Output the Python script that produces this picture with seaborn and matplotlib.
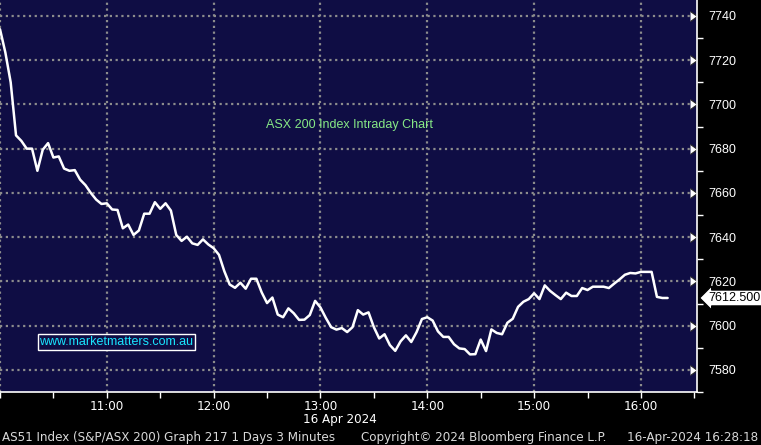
import numpy as np
import pandas as pd
import matplotlib
matplotlib.use("Agg")
import matplotlib.pyplot as plt
import matplotlib.transforms as mtransforms
import seaborn as sns

# ASX 200 intraday, 3 minute bars starting 10:00
start_hour = 10.0
step_min = 3
prices = [7734, 7723.5, 7710, 7686, 7683.5, 7680, 7680, 7670, 7679.5, 7682.5,
          7676, 7676.5, 7671, 7670, 7670.3, 7666, 7663.5, 7660, 7657, 7655,
          7655.3, 7652.5, 7652.3, 7644, 7645.7, 7641, 7643, 7650.6, 7650.6, 7655.8,
          7652.8, 7655.3, 7652, 7641, 7638.3, 7640.2, 7637.2, 7636.5, 7639, 7636.7,
          7635, 7632, 7624.6, 7618.6, 7617.1, 7619.4, 7616.7, 7621.2, 7621.2, 7615,
          7610.2, 7612.7, 7605, 7603.8, 7607.8, 7605.6, 7602.6, 7602.7, 7604.8, 7611.2,
          7608.2, 7603.5, 7599.3, 7598.2, 7598.9, 7597.1, 7599.3, 7607, 7605, 7606,
          7599.3, 7594.2, 7596.1, 7591.2, 7588.6, 7592.9, 7595.6, 7592.6, 7597.1, 7603,
          7603.8, 7602.3, 7597.4, 7594.9, 7594.9, 7591.6, 7589.7, 7589.4, 7587, 7587.1,
          7593.7, 7588.5, 7598.3, 7596.7, 7596.1, 7601.3, 7603.1, 7608.5, 7610.8, 7612,
          7614.6, 7612, 7618.2, 7615.7, 7613.8, 7612, 7614.9, 7613.4, 7613.4, 7617,
          7616.1, 7617.6, 7617.6, 7617.6, 7617, 7619, 7620.9, 7623, 7623.8, 7623.6,
          7624.3, 7624.3, 7624.3, 7613, 7612.5, 7612.5]
hour_ticks = [10, 11, 12, 13, 14, 15, 16]
hour_labels = ["", "11:00", "12:00", "13:00", "14:00", "15:00", "16:00"]
price_ticks = [7580, 7600, 7620, 7640, 7660, 7680, 7700, 7720, 7740]
last_price = 7612.5
date_label = "16 Apr 2024"
chart_title = "ASX 200 Index Intraday Chart"
watermark = "www.marketmatters.com.au"
footer_left = "AS51 Index (S&P/ASX 200) Graph 217 1 Days 3 Minutes"
footer_mid = "Copyright\u00a9 2024 Bloomberg Finance L.P."
footer_right = "16-Apr-2024 16:28:18"

df = pd.DataFrame({"hour": start_hour + np.arange(len(prices)) * step_min / 60,
                   "price": prices})

sns.set_style("dark")
plt.rcParams["font.family"] = ["Liberation Sans", "DejaVu Sans"]
cond = dict(family="DejaVu Sans", stretch="condensed")

navy = "#0f0d44"
grid_col = "#8c8c8c"

fig = plt.figure(figsize=(7.61, 4.45), dpi=100, facecolor="black")
ax = fig.add_axes([0, 1 - 392 / 445, 697 / 761, 392 / 445])
ax.set_facecolor(navy)

sns.lineplot(data=df, x="hour", y="price", color="white", lw=1.8, ax=ax)

ax.set_xlim(10.0, 16.525)
ax.set_ylim(7572.6, 7747.2)

ax.set_xticks(hour_ticks)
ax.set_xticklabels(hour_labels, color="white", fontsize=9.5, **cond)
ax.set_xticks([10.5, 11.5, 12.5, 13.5, 14.5, 15.5, 16.5], minor=True)
ax.tick_params(axis="x", which="both", direction="out", length=4, width=1,
               color="white", pad=2, bottom=True)

ax.yaxis.tick_right()
ax.set_yticks(price_ticks)
ax.set_yticklabels([str(p) for p in price_ticks], color="white", fontsize=9)
ax.set_yticks([p + 10 for p in price_ticks[:-1]] + [7570], minor=True)
ax.tick_params(axis="y", which="major", right=True, length=0, pad=8)
ax.tick_params(axis="y", which="minor", right=True, direction="out",
               length=4, width=1, color="white")
for t in ax.yaxis.get_major_ticks():
    t.tick2line.set_marker(5)
    t.tick2line.set_markersize(7)
    t.tick2line.set_color("white")
    t.tick2line.set_visible(True)

ax.grid(True, which="major", color=grid_col, linestyle=(0, (1, 1.6)), lw=1.6)
for side in ["top", "left"]:
    ax.spines[side].set_visible(False)
for side in ["bottom", "right"]:
    ax.spines[side].set_visible(True)
    ax.spines[side].set_color("white")
    ax.spines[side].set_linewidth(1.2)
ax.set_xlabel("")
ax.set_ylabel("")

ax.text(0.502, 0.681, chart_title, transform=ax.transAxes, ha="center",
        va="center", color="#86e886", fontsize=9)
ax.text(0.167, 0.128, watermark, transform=ax.transAxes, ha="center",
        va="center", color="#19e6ff", fontsize=9,
        bbox=dict(boxstyle="square,pad=0.15", fc=navy, ec="white", lw=1))

trans = mtransforms.blended_transform_factory(ax.transAxes, ax.transData)
ax.annotate(f"{last_price:.3f}", xy=(1.0, last_price), xycoords=trans,
            xytext=(1.016, last_price), textcoords=trans, ha="left",
            va="center", color="black", fontsize=9, annotation_clip=False,
            bbox=dict(boxstyle="larrow,pad=0.15", fc="white", ec="black", lw=0.8))

fig.text(340 / 761, 1 - 419 / 445, date_label, ha="center", va="center",
         color="white", fontsize=9.5, **cond)
fig.text(2 / 761, 1 - 437 / 445, footer_left, ha="left", va="center",
         color="#d8d8d8", fontsize=9.5, **cond)
fig.text(361 / 761, 1 - 437 / 445, footer_mid, ha="left", va="center",
         color="#d8d8d8", fontsize=9.5, **cond)
fig.text(758 / 761, 1 - 437 / 445, footer_right, ha="right", va="center",
         color="#d8d8d8", fontsize=9.5, **cond)

fig.savefig("out.png", dpi=100, facecolor="black")
